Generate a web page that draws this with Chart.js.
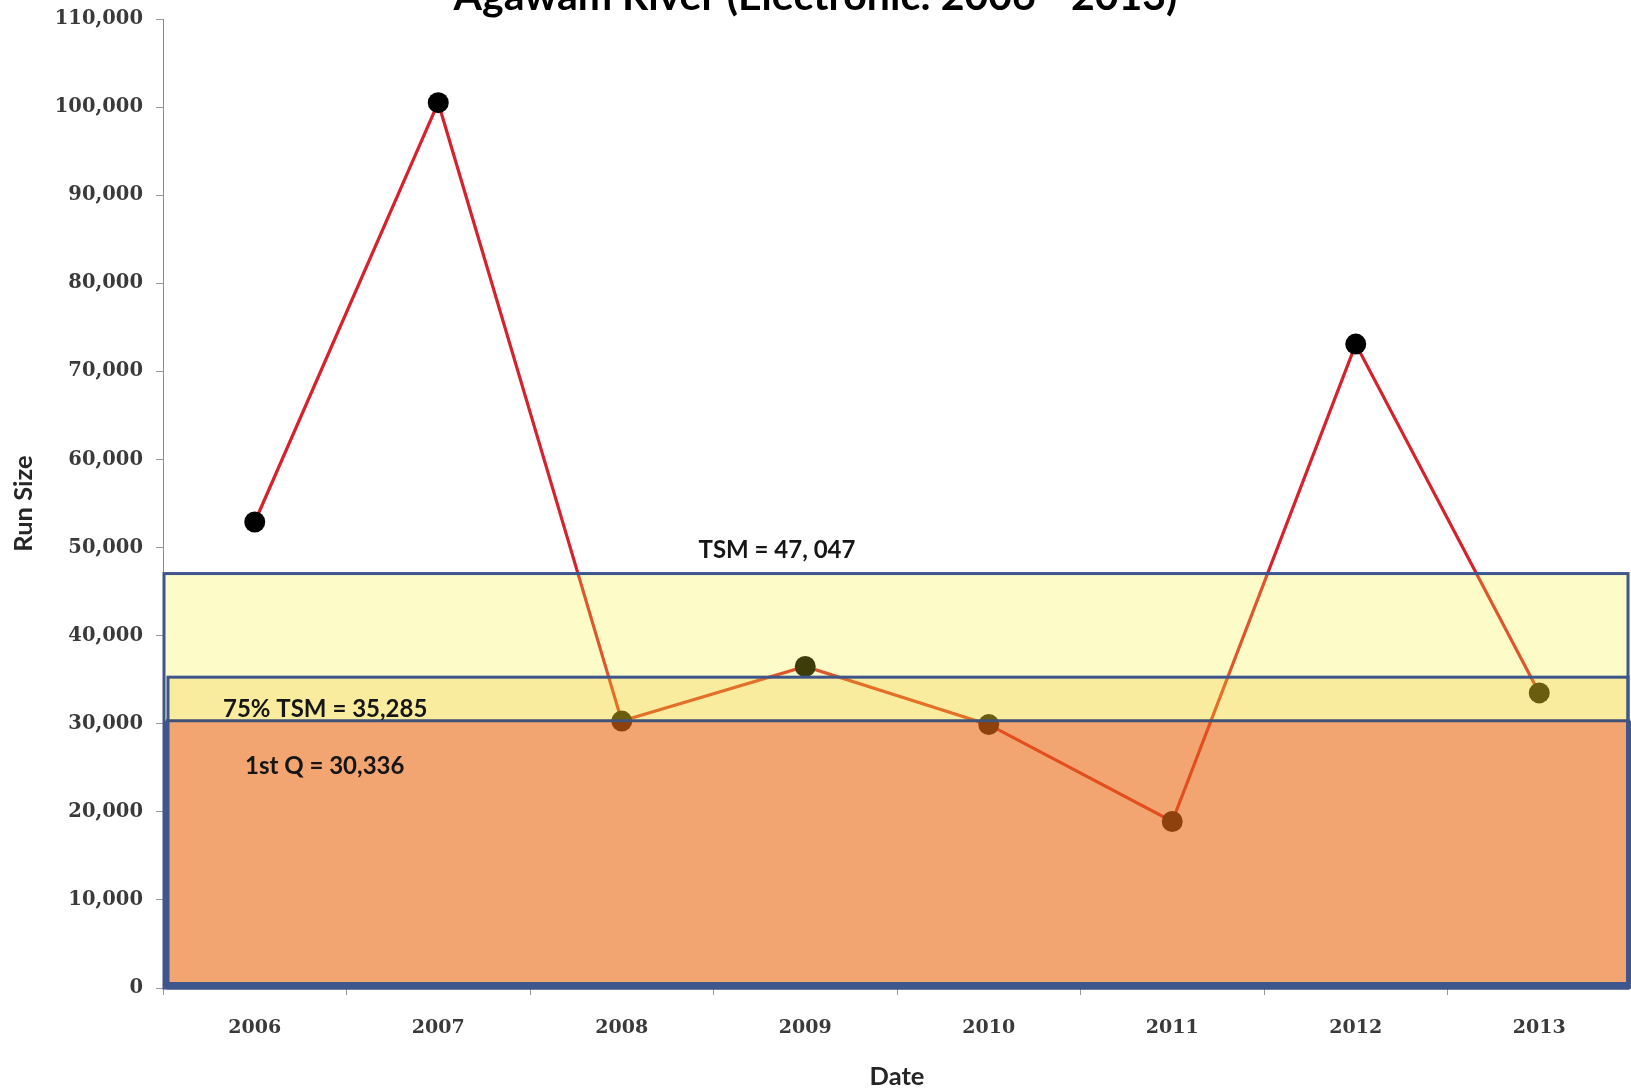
<!DOCTYPE html>
<html>
<head>
<meta charset="utf-8">
<title>Agawam River (Electronic: 2006 - 2013)</title>
<script src="https://cdn.jsdelivr.net/npm/chart.js@4.4.1/dist/chart.umd.min.js"></script>
<style>
  html, body { margin: 0; padding: 0; background: #ffffff; overflow: hidden; }
  /* the canvas is a little taller than the window and lifted so the heading sits at the very top edge */
  #wrap { position: relative; width: 1631px; height: 1132px; margin-top: -40px; }
</style>
</head>
<body>
<div id="wrap"><canvas id="chart"></canvas></div>
<script>
// Annual run size, Agawam River electronic counts
const years = ['2006', '2007', '2008', '2009', '2010', '2011', '2012', '2013'];
const runSize = [52900, 100500, 30300, 36500, 29900, 18900, 73100, 33500];

// Management thresholds
const thresholdLabels = ['TSM = 47, 047', '75% TSM = 35,285', '1st Q = 30,336'];
const thresholdValues = [47047, 35285, 30336];

// y axis range
const yMin = 0;
const yMax = 110000;
const yStep = 10000;

const LABEL_FONT = 'bold 24px Lato, "Open Sans", sans-serif';
const BORDER_BLUE = 'rgb(62, 86, 140)';

// Translucent threshold boxes laid over the series, each running down to zero
const thresholdBoxes = {
  id: 'thresholdBoxes',
  afterDatasetsDraw(chart) {
    const { ctx, chartArea: a, scales: { y } } = chart;
    const yZero = y.getPixelForValue(0);
    const yTsm = y.getPixelForValue(thresholdValues[0]);
    const y75 = y.getPixelForValue(thresholdValues[1]);
    const yQ1 = y.getPixelForValue(thresholdValues[2]);
    const right = a.right - 3;

    ctx.save();

    // TSM box
    ctx.fillStyle = 'rgba(247, 243, 39, 0.25)';
    ctx.fillRect(a.left + 1, yTsm, right - a.left - 1, yZero - yTsm);
    // 75% TSM box
    ctx.fillStyle = 'rgba(242, 190, 30, 0.25)';
    ctx.fillRect(a.left + 5, y75, right - a.left - 5, yZero - y75);
    // first quartile box
    ctx.fillStyle = 'rgba(226, 0, 8, 0.30)';
    ctx.fillRect(a.left + 3, yQ1, a.right - a.left - 4, yZero - yQ1);

    ctx.strokeStyle = BORDER_BLUE;
    ctx.lineWidth = 3;
    ctx.strokeRect(a.left + 1, yTsm, right - a.left - 1, yZero - yTsm);
    ctx.strokeRect(a.left + 5, y75, right - a.left - 5, yZero - y75);

    ctx.strokeStyle = 'rgb(64, 82, 118)';
    ctx.beginPath();
    ctx.moveTo(a.left + 3, yQ1);
    ctx.lineTo(a.right - 1, yQ1);
    ctx.stroke();

    ctx.strokeStyle = BORDER_BLUE;
    ctx.lineWidth = 6;
    ctx.beginPath();
    ctx.moveTo(a.left + 3, yQ1);
    ctx.lineTo(a.left + 3, yZero - 3);
    ctx.lineTo(a.right - 2, yZero - 3);
    ctx.lineTo(a.right - 2, yQ1);
    ctx.stroke();

    // threshold captions
    ctx.fillStyle = '#161616';
    ctx.font = LABEL_FONT;
    ctx.textBaseline = 'middle';
    ctx.textAlign = 'center';
    ctx.fillText(thresholdLabels[0], a.left + 614, yTsm - 23);
    ctx.textAlign = 'left';
    ctx.fillText(thresholdLabels[1], a.left + 60, (y75 + yQ1) / 2 + 10);
    ctx.fillText(thresholdLabels[2], a.left + 82, yQ1 + 45);

    ctx.restore();
  }
};

const yTickFont = { family: '"DejaVu Serif", serif', size: 19.5, weight: 'bold' };
const xTickFont = { family: '"DejaVu Serif", serif', size: 19, weight: 'bold' };
const axisTitleFont = { family: 'Lato, "Open Sans", sans-serif', size: 25.5, weight: 'bold', lineHeight: 1.2 };

new Chart(document.getElementById('chart'), {
  type: 'line',
  data: {
    labels: years,
    datasets: [{
      label: 'Run Size',
      data: runSize,
      borderColor: 'rgb(214, 34, 44)',
      borderWidth: 3.2,
      backgroundColor: '#000000',
      pointBackgroundColor: '#000000',
      pointBorderColor: '#000000',
      pointBorderWidth: 0,
      pointRadius: 10.5,
      tension: 0,
      fill: false
    }]
  },
  options: {
    responsive: true,
    maintainAspectRatio: false,
    animation: false,
    events: [],
    layout: { autoPadding: false, padding: { left: 0, right: 0, top: 0, bottom: 0 } },
    plugins: {
      legend: { display: false },
      tooltip: { enabled: false },
      title: {
        display: true,
        text: 'Agawam River (Electronic: 2006 - 2013)',
        color: '#000000',
        font: { family: 'Lato, "Open Sans", sans-serif', size: 41, weight: 'bold', lineHeight: 1.0 },
        padding: { top: 16, bottom: 2 }
      }
    },
    scales: {
      x: {
        type: 'category',
        offset: true,
        grid: {
          offset: true,
          drawOnChartArea: false,
          drawTicks: true,
          tickLength: 7,
          tickColor: '#9a9a9a'
        },
        border: { display: true, color: '#8a8a8a', width: 1 },
        ticks: {
          color: '#3a3a3a',
          font: xTickFont,
          padding: 22,
          maxRotation: 0
        },
        title: {
          display: true,
          text: 'Date',
          color: '#262626',
          font: axisTitleFont,
          padding: { top: 0, bottom: 0 }
        },
        afterFit(scale) {
          scale.height = 104;
          scale.paddingLeft = 0;
          scale.paddingRight = 0;
        }
      },
      y: {
        min: yMin,
        max: yMax,
        grid: {
          drawOnChartArea: false,
          drawTicks: true,
          tickLength: 7,
          tickColor: '#9a9a9a'
        },
        border: { display: true, color: '#8a8a8a', width: 1 },
        ticks: {
          stepSize: yStep,
          color: '#3a3a3a',
          font: yTickFont,
          padding: 13,
          callback: (v) => v.toLocaleString('en-US')
        },
        title: {
          display: true,
          text: 'Run Size',
          color: '#262626',
          font: axisTitleFont,
          padding: { top: 8, bottom: 0 }
        },
        afterFit(scale) { scale.width = 163; }
      }
    }
  },
  plugins: [thresholdBoxes]
});
</script>
</body>
</html>
